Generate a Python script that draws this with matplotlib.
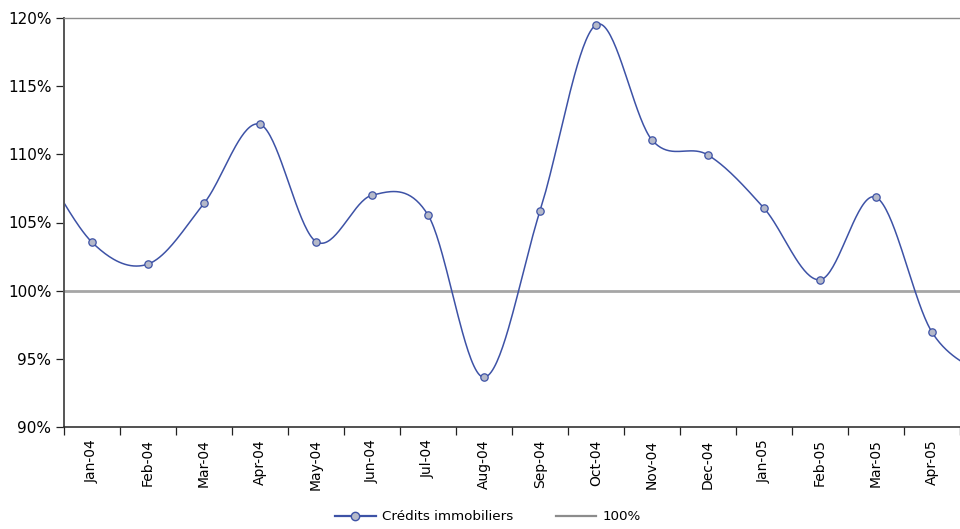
import numpy as np
import matplotlib
matplotlib.use("Agg")
import matplotlib.pyplot as plt
from matplotlib.lines import Line2D
from matplotlib.ticker import FixedLocator, FuncFormatter

# Monthly index of mortgage lending (100% = reference level)
months = ["Jan-04", "Feb-04", "Mar-04", "Apr-04", "May-04", "Jun-04", "Jul-04",
          "Aug-04", "Sep-04", "Oct-04", "Nov-04", "Dec-04", "Jan-05", "Feb-05",
          "Mar-05", "Apr-05"]
credits = [103.55, 101.95, 106.4, 112.2, 103.6, 107.0, 105.55, 93.65, 105.85,
           119.5, 111.05, 109.95, 106.05, 100.8, 106.85, 96.95]
# neighbouring months outside the displayed window (Dec-03, May-05)
credits_before = 110.0
credits_after = 93.7
reference_level = 100.0

LINE = "#3d52a6"
FACE = "#b5b9c9"


def smooth_curve(x, y, n=40):
    """Catmull-Rom spline through the points (endpoints duplicated)."""
    x = np.asarray(x, float)
    y = np.asarray(y, float)
    xp = np.concatenate([[x[0]], x, [x[-1]]])
    yp = np.concatenate([[y[0]], y, [y[-1]]])
    xs, ys = [], []
    t = np.linspace(0, 1, n)
    for i in range(1, len(xp) - 2):
        p0, p1, p2, p3 = xp[i - 1:i + 3]
        q0, q1, q2, q3 = yp[i - 1:i + 3]
        for arr, (a0, a1, a2, a3) in ((xs, (p0, p1, p2, p3)), (ys, (q0, q1, q2, q3))):
            arr.append(0.5 * ((2 * a1) + (-a0 + a2) * t
                              + (2 * a0 - 5 * a1 + 4 * a2 - a3) * t ** 2
                              + (-a0 + 3 * a1 - 3 * a2 + a3) * t ** 3))
    return np.concatenate(xs), np.concatenate(ys)


fig = plt.figure(figsize=(9.6, 5.29), dpi=100)
ax = fig.add_axes([64 / 960, 1 - 427 / 529, 1 - 64 / 960, (427 - 18) / 529])

pos = np.arange(len(months))
all_x = np.concatenate([[-1], pos, [len(months)]])
all_y = np.concatenate([[credits_before], credits, [credits_after]])
sx, sy = smooth_curve(all_x, all_y)

ax.axhline(reference_level, color="#a6a6a6", lw=2.0, zorder=1)
ax.plot(sx, sy, color=LINE, lw=1.1, zorder=2)
ax.plot(pos, credits, ls="none", marker="o", ms=5.3, mfc=FACE, mec=LINE,
        mew=0.9, zorder=3)

ax.set_xlim(-0.5, len(months) - 0.5)
ax.set_ylim(90, 120)

ax.yaxis.set_major_locator(FixedLocator(np.arange(90, 121, 5)))
ax.yaxis.set_major_formatter(FuncFormatter(lambda v, p: f"{v:.0f}%"))
ax.set_xticks(pos)
ax.set_xticklabels(months, rotation=90)
ax.set_xticks(np.arange(-0.5, len(months)), minor=True)
ax.tick_params(axis="x", which="major", length=0, pad=9, labelsize=10)
ax.tick_params(axis="x", which="minor", length=6, width=0.9, color="#222222",
               direction="out")
ax.tick_params(axis="y", length=6, width=0.9, color="#222222", labelsize=11,
               pad=3)

ax.spines["right"].set_visible(False)
ax.spines["top"].set_color("#8c8c8c")
ax.spines["top"].set_linewidth(1.0)
ax.spines["left"].set_color("#555555")
ax.spines["left"].set_linewidth(1.4)
ax.spines["bottom"].set_color("#222222")
ax.spines["bottom"].set_linewidth(1.1)

handles = [
    Line2D([], [], color=LINE, lw=1.6, marker="o", ms=6, mfc=FACE, mec=LINE,
           mew=1.0),
    Line2D([], [], color="#8c8c8c", lw=1.6),
]
fig.legend(handles, ["Crédits immobiliers", "100%"], loc="center",
           bbox_to_anchor=(488 / 960, 1 - 517 / 529), ncol=2, frameon=False,
           fontsize=9.7, handlelength=3.0, handletextpad=0.45,
           columnspacing=3.2)

fig.savefig("out.png", dpi=100)
